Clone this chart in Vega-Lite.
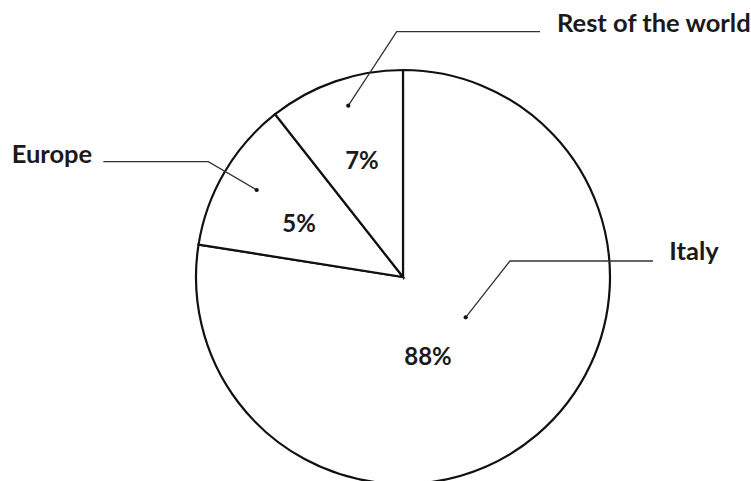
{
  "$schema": "https://vega.github.io/schema/vega-lite/v6.json",
  "width": 751,
  "height": 481,
  "padding": 0,
  "autosize": {"type": "none"},
  "background": "white",
  "config": {"view": {"stroke": null}},
  "datasets": {
    "slices": [
      {"region": "Italy", "share": 77.5, "pct": "88%"},
      {"region": "Europe", "share": 11.9, "pct": "5%"},
      {"region": "Rest of the world", "share": 10.6, "pct": "7%"}
    ],
    "notes": [
      {"region": "Rest of the world", "kind": "leader", "step": 1, "x": -0.2643, "y": 0.8275},
      {"region": "Rest of the world", "kind": "leader", "step": 2, "x": -0.0304, "y": 1.185},
      {"region": "Rest of the world", "kind": "leader", "step": 3, "x": 0.6618, "y": 1.185},
      {"region": "Europe", "kind": "leader", "step": 1, "x": -0.7068, "y": 0.4203},
      {"region": "Europe", "kind": "leader", "step": 2, "x": -0.9406, "y": 0.557},
      {"region": "Europe", "kind": "leader", "step": 3, "x": -1.4478, "y": 0.557},
      {"region": "Italy", "kind": "leader", "step": 1, "x": 0.3029, "y": -0.1947},
      {"region": "Italy", "kind": "leader", "step": 2, "x": 0.5169, "y": 0.0773},
      {"region": "Italy", "kind": "leader", "step": 3, "x": 1.2077, "y": 0.0773},
      {"region": "Rest of the world", "kind": "name", "step": 0, "x": 0.744, "y": 1.185},
      {"region": "Europe", "kind": "name", "step": 0, "x": -1.8903, "y": 0.5493},
      {"region": "Italy", "kind": "name", "step": 0, "x": 1.2865, "y": 0.0821},
      {"region": "Rest of the world", "kind": "pct", "step": 0, "x": -0.1981, "y": 0.5203},
      {"region": "Europe", "kind": "pct", "step": 0, "x": -0.5024, "y": 0.2188},
      {"region": "Italy", "kind": "pct", "step": 0, "x": 0.1208, "y": -0.4251}
    ]
  },
  "layer": [
    {
      "data": {"name": "slices"},
      "mark": {"type": "arc", "radius": 207, "fill": "white", "stroke": "#111111", "strokeWidth": 2.2},
      "encoding": {
        "theta": {"field": "share", "type": "quantitative", "stack": true},
        "order": {"field": "share", "type": "quantitative", "sort": "descending"},
        "x": {"datum": 0, "type": "quantitative", "scale": {"domain": [-1.94686, 1.68116], "nice": false, "zero": false}, "axis": null},
        "y": {"datum": 0, "type": "quantitative", "scale": {"domain": [-0.98551, 1.33816], "nice": false, "zero": false}, "axis": null}
      }
    },
    {
      "data": {"name": "notes"},
      "transform": [{"filter": "datum.kind === 'leader'"}],
      "mark": {"type": "line", "stroke": "#333333", "strokeWidth": 1.3},
      "encoding": {
        "x": {"field": "x", "type": "quantitative", "axis": null},
        "y": {"field": "y", "type": "quantitative", "axis": null},
        "detail": {"field": "region"},
        "order": {"field": "step", "type": "quantitative"}
      }
    },
    {
      "data": {"name": "notes"},
      "transform": [{"filter": "datum.kind === 'leader' && datum.step === 1"}],
      "mark": {"type": "circle", "size": 18, "color": "#111111", "opacity": 1},
      "encoding": {
        "x": {"field": "x", "type": "quantitative", "axis": null},
        "y": {"field": "y", "type": "quantitative", "axis": null}
      }
    },
    {
      "data": {"name": "notes"},
      "transform": [{"filter": "datum.kind === 'name'"}],
      "mark": {"type": "text", "font": "Lato", "fontWeight": "bold", "fontSize": 25.5, "align": "left", "baseline": "alphabetic", "color": "#1a1a1a"},
      "encoding": {
        "x": {"field": "x", "type": "quantitative", "axis": null},
        "y": {"field": "y", "type": "quantitative", "axis": null},
        "text": {"field": "region"}
      }
    },
    {
      "data": {"name": "notes"},
      "transform": [
        {"filter": "datum.kind === 'pct'"},
        {"lookup": "region", "from": {"data": {"name": "slices"}, "key": "region", "fields": ["pct"]}}
      ],
      "mark": {"type": "text", "font": "Lato", "fontWeight": "bold", "fontSize": 24, "align": "center", "baseline": "alphabetic", "color": "#1a1a1a"},
      "encoding": {
        "x": {"field": "x", "type": "quantitative", "axis": null},
        "y": {"field": "y", "type": "quantitative", "axis": null},
        "text": {"field": "pct"}
      }
    }
  ]
}
